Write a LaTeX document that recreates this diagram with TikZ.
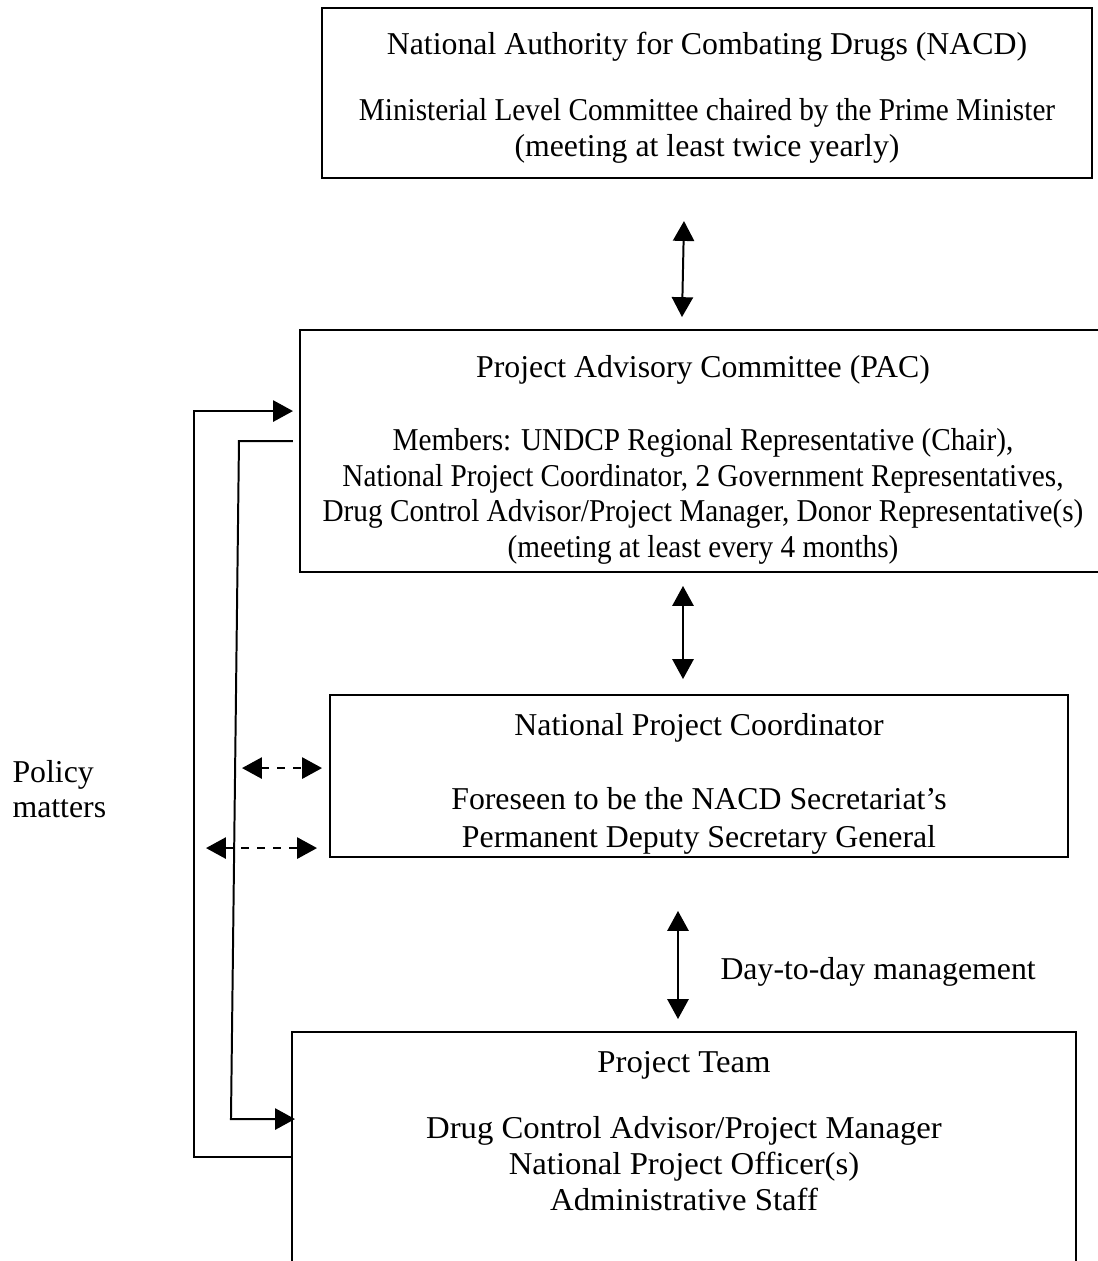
\documentclass[tikz,border=0pt]{standalone}
\usepackage{fontspec}
\setmainfont{Liberation Serif}
\newfontfamily\narrowserif[FakeStretch=0.92]{Liberation Serif}
\newfontfamily\wideserif[FakeStretch=1.03]{Liberation Serif}
\usepackage{tikz}
\usetikzlibrary{arrows.meta}

\begin{document}
\begin{tikzpicture}[x=0.3774pt, y=-0.3774pt,
  box/.style={rectangle, draw=black, line width=0.75pt, align=center, inner sep=0pt, font=\fontsize{12}{13.5}\selectfont},
  txt/.style={rectangle, draw=none, text=black, inner sep=0pt, font=\fontsize{12}{13.5}\selectfont},
  link/.style={line width=0.75pt, >={Triangle[length=7.5pt,width=8pt]}}]
\useasboundingbox (0,0) rectangle (1097,1261);
\node [box, minimum width=290.6pt, minimum height=64.2pt] (NACD) at (707,93) {\rule{0pt}{12.1pt}National Authority for Combating Drugs (NACD)\\[11.5pt]{\narrowserif Ministerial Level Committee chaired by the Prime Minister}\\(meeting at least twice yearly)};
\node [box, minimum width=304.2pt, minimum height=91.3pt] (PAC) at (703,451) {\rule{0pt}{15.1pt}Project Advisory Committee (PAC)\\[14pt]{\narrowserif Members: UNDCP Regional Representative (Chair),}\\{\narrowserif National Project Coordinator, 2 Government Representatives,}\\{\narrowserif Drug Control Advisor/Project Manager, Donor Representative(s)}\\{\narrowserif (meeting at least every 4 months)}};
\node [box, minimum width=278.5pt, minimum height=61.1pt] (NPC) at (699,776) {\rule{0pt}{14pt}National Project Coordinator\\[14.5pt]Foreseen to be the NACD Secretariat's\\[0.7pt]Permanent Deputy Secretary General};
\node [box, font=\wideserif\fontsize{12}{13.5}\selectfont, minimum width=295.9pt, minimum height=113.2pt] (Team) at (684,1182) {Project Team\\[11.5pt]Drug Control Advisor/Project Manager\\National Project Officer(s)\\Administrative Staff\\[25pt]\mbox{}};
\node [txt, align=left, anchor=west] (policy) at (12,789) {Policy\\matters};
\node [txt, anchor=west] (daytoday) at (720,972) {Day-to-day management};
\draw [link, <->] ([shift={(-23,42)}]NACD.south) -- ([shift={(-21,-12)}]PAC.north);
\draw [link, <->] ([shift={(-20,13)}]PAC.south) -- ([shift={(-16,-15)}]NPC.north);
\draw [link, <->] ([shift={(-21,53)}]NPC.south) -- ([shift={(-6,-12)}]Team.north);
\draw [link, ->] ([shift={(2,126)}]Team.north west) -- ++(-99,0) |- ([shift={(-6,82)}]PAC.north west);
\draw [link, ->] ([shift={(-6,112)}]PAC.north west) -- ++(-54,0) -- ++(-8,678) -- ([shift={(4,88)}]Team.north west);
\draw [link, dashed, <->] ([shift={(-87,74)}]NPC.north west) -- ([shift={(-7,74)}]NPC.north west);
\draw [link, dashed, <->] ([shift={(-123,154)}]NPC.north west) -- ([shift={(-12,154)}]NPC.north west);
\end{tikzpicture}
\end{document}
